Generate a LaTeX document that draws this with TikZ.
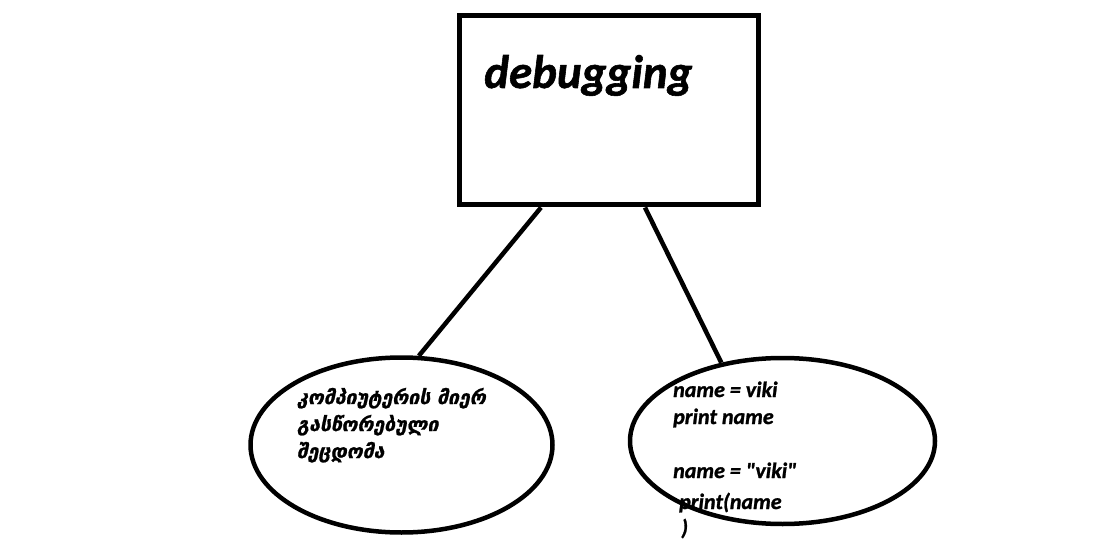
\documentclass[tikz,border=0pt]{standalone}
\usepackage{fontspec}
\newfontfamily\cbi{Carlito}[Ligatures=TeXOff,UprightFont=* Bold Italic,FakeBold=1.2]
\newfontfamily\geofont{DejaVu Sans}[UprightFont=* Bold Oblique,FakeBold=1]
\usetikzlibrary{shapes.geometric}
\begin{document}
\begin{tikzpicture}[x=1pt,y=-1pt,
  thick line/.style={line width=4.5pt},
  blob/.style={draw,ellipse,line width=4.5pt,inner sep=0pt},
  code/.style={anchor=base west,inner sep=0pt,font=\fontsize{22}{22}\cbi},
  geo/.style={anchor=base west,inner sep=0pt,font=\fontsize{19.5}{19.5}\geofont}]
\useasboundingbox (0,0) rectangle (1095,540);
\node[draw,line width=5pt,minimum width=299pt,minimum height=189pt] (box) at (608.5,110.5) {};
\node[anchor=base west,inner sep=0pt,font=\fontsize{47}{47}\cbi] (title) at (484,88) {debugging};
\node[blob,minimum width=302pt,minimum height=175pt] (lell) at (401.5,445) {};
\node[blob,minimum width=305pt,minimum height=166pt] (rell) at (782.5,441) {};
\draw[thick line] ([xshift=-67.5pt]box.south) -- (lell.79);
\draw[thick line] ([xshift=36.5pt]box.south) -- (rell.128);
\node[geo] (g1) at (297,404) {კომპიუტერის მიერ};
\node[geo] (g2) at (297,431) {გასწორებული};
\node[geo] (g3) at (297,458) {შეცდომა};
\node[code] (c1) at (673,397) {name = viki};
\node[code] (c2) at (673,424) {print name};
\node[code] (c3) at (673,478) {name = "viki"};
\node[code] (c4) at (679,509) {print(name};
\node[code] (c5) at (681,535) {)};
\end{tikzpicture}
\end{document}
